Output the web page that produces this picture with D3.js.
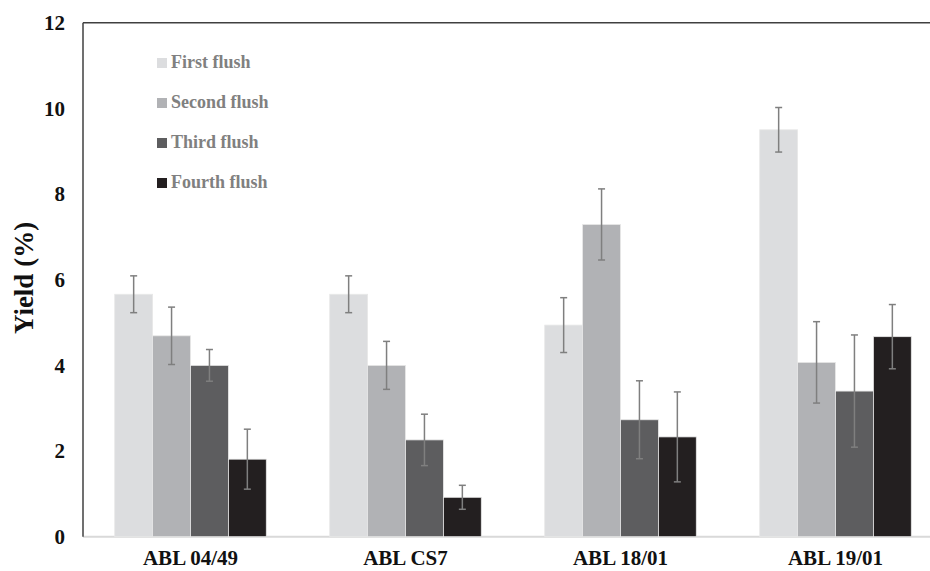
<!DOCTYPE html>
<html>
<head>
<meta charset="utf-8">
<script src="https://cdn.jsdelivr.net/npm/d3@7"></script>
<style>
  html, body { margin: 0; padding: 0; background: #fff; }
  svg { display: block; }
  text { font-family: "Liberation Serif", "Times New Roman", serif; font-weight: bold; }
</style>
</head>
<body>
<svg id="chart" width="930" height="571"></svg>
<script>
// ---- data ----
const categories = ["ABL 04/49", "ABL CS7", "ABL 18/01", "ABL 19/01"];
const seriesNames = ["First flush", "Second flush", "Third flush", "Fourth flush"];
const firstFlush  = [5.66, 5.66, 4.94, 9.50];
const secondFlush = [4.69, 4.00, 7.29, 4.07];
const thirdFlush  = [4.00, 2.26, 2.73, 3.40];
const fourthFlush = [1.81, 0.92, 2.33, 4.67];
const firstErr  = [0.43, 0.43, 0.64, 0.52];
const secondErr = [0.67, 0.56, 0.83, 0.95];
const thirdErr  = [0.37, 0.60, 0.91, 1.31];
const fourthErr = [0.70, 0.28, 1.05, 0.75];
const yTicks = [0, 2, 4, 6, 8, 10, 12];
const yTitle = "Yield (%)";

const seriesValues = [firstFlush, secondFlush, thirdFlush, fourthFlush];
const seriesErrors = [firstErr, secondErr, thirdErr, fourthErr];
const colors = ["#dcdddf", "#b1b2b5", "#5d5d5f", "#231f20"];

const svg = d3.select("#chart");
const W = 930, H = 571;
const mLeft = 83, mTop = 22.7, mBottom = 536.7, mRight = 943;

const x = d3.scaleBand().domain(categories).range([mLeft, mRight]).paddingInner(0.295).paddingOuter(0.1475);
const xs = d3.scaleBand().domain(seriesNames).range([0, x.bandwidth()]);
const y = d3.scaleLinear().domain([0, 12]).range([mBottom, mTop]);

// baseline
svg.append("line").attr("x1", mLeft).attr("x2", W).attr("y1", y(0)).attr("y2", y(0))
  .attr("stroke", "#d9d9d9").attr("stroke-width", 2);

// bars
const rows = [];
categories.forEach((c, i) => seriesNames.forEach((s, j) => {
  rows.push({ c, s, j, v: seriesValues[j][i], e: seriesErrors[j][i] });
}));

svg.append("g").selectAll("rect").data(rows).join("rect")
  .attr("x", d => x(d.c) + xs(d.s))
  .attr("width", xs.bandwidth())
  .attr("y", d => y(d.v))
  .attr("height", d => y(0) - y(d.v))
  .attr("fill", d => colors[d.j])
  .attr("stroke", "#e8e8e8").attr("stroke-width", 0.8);

// error bars
const eg = svg.append("g").attr("stroke", "#7f7f7f").attr("stroke-width", 1.5);
rows.forEach(d => {
  const cx = x(d.c) + xs(d.s) + xs.bandwidth() / 2;
  eg.append("line").attr("x1", cx).attr("x2", cx).attr("y1", y(d.v + d.e)).attr("y2", y(d.v - d.e));
  eg.append("line").attr("x1", cx - 3.5).attr("x2", cx + 3.5).attr("y1", y(d.v + d.e)).attr("y2", y(d.v + d.e));
  eg.append("line").attr("x1", cx - 3.5).attr("x2", cx + 3.5).attr("y1", y(d.v - d.e)).attr("y2", y(d.v - d.e));
});

// frame: left axis and top line
svg.append("line").attr("x1", mLeft).attr("x2", mLeft).attr("y1", mTop).attr("y2", mBottom)
  .attr("stroke", "#404040").attr("stroke-width", 1.5);
svg.append("line").attr("x1", mLeft).attr("x2", W).attr("y1", mTop).attr("y2", mTop)
  .attr("stroke", "#404040").attr("stroke-width", 1.5);

// y axis tick labels
const yAxis = d3.axisLeft(y).tickValues(yTicks).tickSize(0).tickPadding(0).tickFormat(d3.format("d"));
const ga = svg.append("g").attr("transform", `translate(65,0)`).call(yAxis);
ga.select(".domain").remove();
ga.selectAll("text").attr("font-size", 21).attr("fill", "#111")
  .attr("font-family", "Liberation Serif, Times New Roman, serif").attr("font-weight", "bold");

// x axis labels
const xAxis = d3.axisBottom(x).tickSize(0).tickPadding(0);
const gx = svg.append("g").attr("transform", `translate(0,${y(0)})`).call(xAxis);
gx.select(".domain").remove();
gx.selectAll("text").attr("font-size", 21).attr("fill", "#111").attr("dy", null).attr("y", 28.5)
  .attr("font-family", "Liberation Serif, Times New Roman, serif").attr("font-weight", "bold");

// y title
svg.append("text").attr("transform", "translate(33,278) rotate(-90)")
  .attr("text-anchor", "middle").attr("font-size", 27).attr("fill", "#111").text(yTitle);

// legend
const lg = svg.append("g");
seriesNames.forEach((s, j) => {
  const yy = 68 + j * 40;
  lg.append("rect").attr("x", 157).attr("y", yy - 10).attr("width", 10).attr("height", 10).attr("fill", colors[j]);
  lg.append("text").attr("x", 171).attr("y", yy).attr("font-size", 18).attr("fill", "#808080").text(s);
});
</script>
</body>
</html>
